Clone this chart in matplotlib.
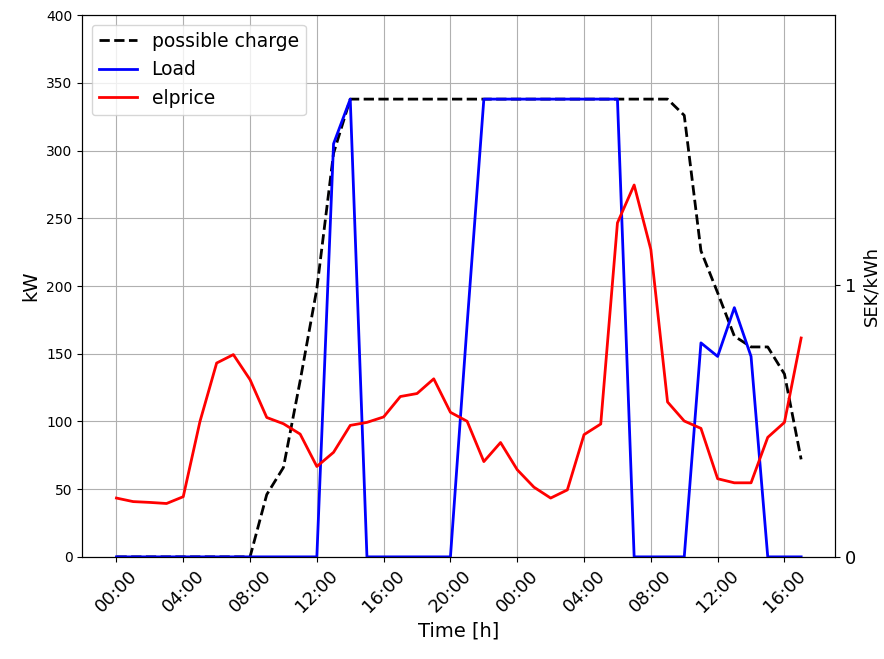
import pandas as pd
import matplotlib
matplotlib.use("Agg")
import matplotlib.pyplot as plt
import matplotlib.dates as mdates

# hourly samples, 00:00 day 1 to 17:00 day 2
times = pd.date_range("2023-01-01 00:00", periods=42, freq="h")

possible_charge = [0, 0, 0, 0, 0, 0, 0, 0, 0, 46, 66, 130, 198, 298, 338,
                   338, 338, 338, 338, 338, 338, 338, 338, 338, 338, 338, 338, 338, 338, 338,
                   338, 338, 338, 338, 326, 226, 195, 163, 155, 155, 135, 72]

load = [0, 0, 0, 0, 0, 0, 0, 0, 0, 0, 0, 0, 0, 305, 338,
        0, 0, 0, 0, 0, 0, 172, 338, 338, 338, 338, 338, 338, 338, 338,
        338, 0, 0, 0, 0, 158, 148, 184, 148, 0, 0, 0]

elprice = [0.216, 0.203, 0.200, 0.196, 0.221, 0.497, 0.712, 0.743, 0.651, 0.512,
           0.489, 0.451, 0.332, 0.384, 0.483, 0.494, 0.514, 0.589, 0.600, 0.654,
           0.531, 0.498, 0.350, 0.420, 0.320, 0.256, 0.216, 0.246, 0.449, 0.488,
           1.227, 1.366, 1.129, 0.569, 0.499, 0.472, 0.287, 0.272, 0.272, 0.439,
           0.494, 0.804]

fig, ax = plt.subplots(figsize=(8.84, 6.59), dpi=100)
l1, = ax.plot(times, possible_charge, "k--", linewidth=2, label="possible charge")
l2, = ax.plot(times, load, color="blue", linewidth=2, label="Load")
ax.set_ylim(0, 400)
ax.set_ylabel("kW", fontsize=14)
ax.set_xlabel("Time [h]", fontsize=14)
ax.grid(True)
ax.xaxis.set_major_locator(mdates.HourLocator(byhour=range(0, 24, 4)))
ax.xaxis.set_major_formatter(mdates.DateFormatter("%H:%M"))
ax.tick_params(axis="x", labelsize=13, labelrotation=45)

ax2 = ax.twinx()
l3, = ax2.plot(times, elprice, color="red", linewidth=2, label="elprice")
ax2.set_ylim(0, 1.99)
ax2.set_yticks([0, 1])
ax2.set_ylabel("SEK/kWh", fontsize=13)
ax2.tick_params(axis="y", labelsize=13)

ax.legend(handles=[l1, l2, l3], loc="upper left", fontsize=13.5)

fig.subplots_adjust(left=0.093, right=0.945, top=0.977, bottom=0.155)
fig.savefig("out.png")
